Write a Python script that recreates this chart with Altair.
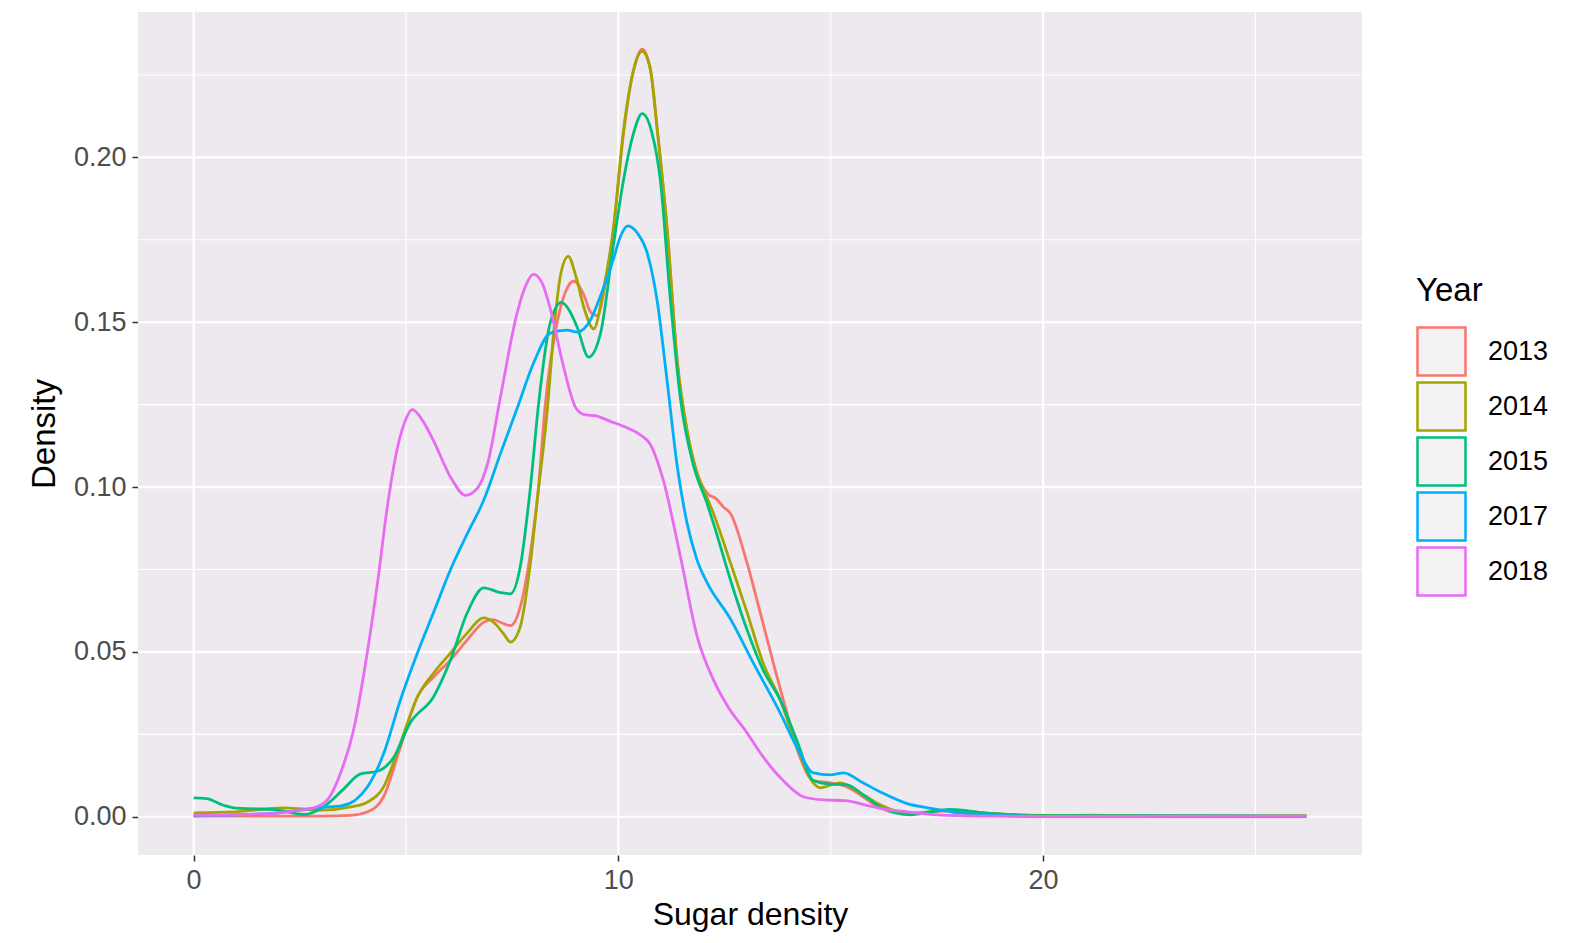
import altair as alt
import pandas as pd

# ---- data (Sugar density, Density) ----
x_2013 = [0, 1, 2, 3, 3.7, 4.1, 4.47, 4.87, 5.27, 5.65, 6.05, 6.44, 6.83, 7.06, 7.22, 7.46, 7.69, 7.93,
          8.12, 8.28, 8.56, 8.75, 8.95, 9.18, 9.35, 9.5, 9.7, 9.9, 10.12, 10.35, 10.56, 10.75, 10.92,
          11.15, 11.39, 11.62, 11.86, 12.1, 12.3, 12.47, 12.64, 13.03, 13.34, 13.65, 13.97, 14.28,
          14.59, 15.0, 15.38, 15.77, 16.16, 16.8, 17.8, 18.75, 20, 21.1, 22, 24, 26.2]
y_2013 = [0.0002, 0.0002, 0.0002, 0.0002, 0.0004, 0.0015, 0.006, 0.0212, 0.0364, 0.0424, 0.0476, 0.0536,
          0.059, 0.0598, 0.059, 0.058, 0.0636, 0.08, 0.10, 0.125, 0.15, 0.159, 0.1625, 0.1585, 0.153,
          0.152, 0.162, 0.18, 0.207, 0.226, 0.2328, 0.227, 0.208, 0.178, 0.138, 0.117, 0.104, 0.098,
          0.0965, 0.094, 0.092, 0.077, 0.062, 0.0466, 0.0315, 0.018, 0.011, 0.0103, 0.009, 0.006,
          0.0027, 0.001, 0.0018, 0.001, 0.0003, 0.0005, 0.0003, 0.0002, 0.0002]

x_2014 = [0, 1, 2.1, 3, 3.7, 4.1, 4.47, 4.87, 5.27, 5.65, 6.05, 6.44, 6.83, 7.06, 7.3, 7.46, 7.69, 7.93,
          8.1, 8.32, 8.5, 8.65, 8.82, 9.0, 9.2, 9.42, 9.65, 9.88, 10.12, 10.35, 10.56, 10.75, 10.92,
          11.15, 11.39, 11.62, 11.86, 12.05, 12.24, 12.64, 13.03, 13.41, 13.81, 14.2, 14.59, 14.75,
          15.22, 15.77, 16.16, 16.8, 17.8, 18.75, 20, 22, 24, 26.2]
y_2014 = [0.0012, 0.0015, 0.0027, 0.002, 0.003, 0.0045, 0.009, 0.0224, 0.0364, 0.0436, 0.0497, 0.0557,
          0.0603, 0.059, 0.0555, 0.053, 0.0576, 0.077, 0.097, 0.1224, 0.15, 0.165, 0.170, 0.164, 0.154,
          0.148, 0.16, 0.178, 0.208, 0.226, 0.2322, 0.227, 0.208, 0.178, 0.1376, 0.117, 0.104, 0.098,
          0.092, 0.077, 0.062, 0.0466, 0.0355, 0.0212, 0.0103, 0.0088, 0.0103, 0.0066, 0.0037, 0.001,
          0.002, 0.001, 0.0004, 0.0002, 0.0002, 0.0003]

x_2015 = [0, 0.3, 0.7, 1.0, 1.5, 2.0, 2.6, 3.06, 3.5, 3.93, 4.33, 4.71, 5.1, 5.65, 6.05, 6.44, 6.83,
          7.22, 7.46, 7.69, 7.93, 8.12, 8.4, 8.66, 8.85, 9.03, 9.3, 9.58, 9.88, 10.12, 10.35, 10.56,
          10.78, 10.99, 11.22, 11.46, 11.76, 12.09, 12.24, 12.64, 13.03, 13.41, 13.81, 14.2, 14.59,
          14.99, 15.38, 15.77, 16.16, 16.85, 17.8, 18.75, 20, 22, 24, 26.2]
y_2015 = [0.0057, 0.0055, 0.0035, 0.0026, 0.0024, 0.002, 0.0007, 0.003, 0.008, 0.013, 0.0138, 0.018,
          0.0285, 0.0364, 0.0476, 0.0618, 0.0694, 0.068, 0.0676, 0.0758, 0.10, 0.125, 0.15, 0.156,
          0.1535, 0.1485, 0.1394, 0.1466, 0.173, 0.193, 0.207, 0.2133, 0.208, 0.193, 0.1576, 0.127,
          0.107, 0.095, 0.089, 0.0718, 0.0567, 0.0445, 0.0355, 0.0233, 0.011, 0.0099, 0.0097, 0.0066,
          0.003, 0.0006, 0.0022, 0.001, 0.0003, 0.0003, 0.0003, 0.0002]

x_2017 = [0, 1, 2, 2.5, 3.0, 3.5, 3.8, 4.09, 4.47, 4.87, 5.27, 5.65, 6.05, 6.45, 6.83, 7.22, 7.62, 8.0,
          8.4, 8.8, 9.03, 9.34, 9.58, 9.88, 10.05, 10.22, 10.45, 10.68, 10.92, 11.15, 11.39, 11.62,
          11.85, 12.09, 12.64, 13.18, 13.81, 14.2, 14.59, 14.99, 15.3, 15.76, 16.16, 16.8, 17.39, 18.0,
          18.75, 20, 22, 24, 26.2]
y_2017 = [0.0003, 0.0006, 0.0012, 0.002, 0.0028, 0.0034, 0.005, 0.009, 0.019, 0.0355, 0.0497, 0.062,
          0.075, 0.086, 0.096, 0.110, 0.124, 0.1375, 0.1467, 0.1476, 0.147, 0.1506, 0.158, 0.169,
          0.176, 0.1792, 0.177, 0.171, 0.156, 0.132, 0.106, 0.089, 0.078, 0.071, 0.060, 0.0466,
          0.0315, 0.0212, 0.0133, 0.0127, 0.0133, 0.0103, 0.0076, 0.004, 0.0025, 0.0012, 0.0005,
          0.0001, 0.0001, 0.0001, 0.0001]

x_2018 = [0, 1, 2, 2.5, 2.9, 3.2, 3.46, 3.76, 4.09, 4.33, 4.56, 4.8, 4.95, 5.15, 5.4, 5.65, 6.05, 6.4,
          6.7, 6.92, 7.22, 7.62, 7.85, 8.0, 8.2, 8.4, 8.7, 9.0, 9.2, 9.5, 9.8, 10.2, 10.5, 10.75, 11.06,
          11.46, 11.86, 12.24, 12.6, 13.0, 13.4, 13.88, 14.37, 14.85, 15.34, 15.8, 16.3, 16.8, 17.5,
          18.75, 20, 22, 24, 26.2]
y_2018 = [0.0004, 0.0006, 0.0012, 0.002, 0.003, 0.006, 0.0133, 0.026, 0.05, 0.071, 0.094, 0.112, 0.119,
          0.1235, 0.120, 0.114, 0.103, 0.0975, 0.1, 0.107, 0.127, 0.153, 0.162, 0.1645, 0.162, 0.154,
          0.137, 0.124, 0.122, 0.1215, 0.120, 0.118, 0.116, 0.113, 0.102, 0.079, 0.0545, 0.0415,
          0.033, 0.026, 0.0183, 0.011, 0.006, 0.0051, 0.0049, 0.0036, 0.0022, 0.0015, 0.0006, 0.0002,
          0.0001, 0.0001, 0.0002, 0.0002]

years = ["2013", "2014", "2015", "2017", "2018"]
colors = ["#F8766D", "#A3A500", "#00BF7D", "#00B0F6", "#E76BF3"]

x_ticks = [0, 10, 20]
x_major_grid = [0, 10, 20]
x_minor_grid = [5, 15, 25]
y_ticks = [0.0, 0.05, 0.10, 0.15, 0.20]
y_major_grid = [0.0, 0.05, 0.10, 0.15, 0.20]
y_minor_grid = [0.025, 0.075, 0.125, 0.175, 0.225]

series = {"2013": (x_2013, y_2013), "2014": (x_2014, y_2014), "2015": (x_2015, y_2015),
          "2017": (x_2017, y_2017), "2018": (x_2018, y_2018)}
rows = []
for yr, (xs, ys) in series.items():
    for xv, yv in zip(xs, ys):
        rows.append({"Year": yr, "sugar": xv, "density": yv})
df = pd.DataFrame(rows)

x_dom = [-1.31, 27.51]
y_dom = [-0.0116, 0.2441]
xscale = alt.Scale(domain=x_dom, nice=False, zero=False)
yscale = alt.Scale(domain=y_dom, nice=False, zero=False)

x_axis = alt.Axis(values=x_ticks, grid=False, domain=False, tickSize=6, tickWidth=1.5,
                  tickColor="#333333", labelColor="#4D4D4D", labelFontSize=27,
                  labelPadding=6, titleFontSize=32, titleFontWeight="normal",
                  titleColor="#000000", titlePadding=6, format="d")
y_axis = alt.Axis(values=y_ticks, grid=False, domain=False, tickSize=6, tickWidth=1.5,
                  tickColor="#333333", labelColor="#4D4D4D", labelFontSize=27,
                  labelPadding=6, titleFontSize=33, titleFontWeight="normal",
                  titleColor="#000000", titlePadding=12, format=".2f")

def vrules(vals, w):
    return alt.Chart(pd.DataFrame({"sugar": vals})).mark_rule(color="white", strokeWidth=w).encode(
        x=alt.X("sugar:Q", scale=xscale, title="Sugar density", axis=x_axis))

def hrules(vals, w):
    return alt.Chart(pd.DataFrame({"density": vals})).mark_rule(color="white", strokeWidth=w).encode(
        y=alt.Y("density:Q", scale=yscale, title="Density", axis=y_axis))

lines = alt.Chart(df).mark_line(interpolate="monotone", strokeWidth=2.8).encode(
    x=alt.X("sugar:Q", scale=xscale, title="Sugar density", axis=x_axis),
    y=alt.Y("density:Q", scale=yscale, title="Density", axis=y_axis),
    color=alt.Color("Year:N", scale=alt.Scale(domain=years, range=colors),
                    legend=alt.Legend(title="Year", orient="none", legendX=1278, legendY=263,
                                      symbolType="square", symbolSize=2304,
                                      symbolStrokeWidth=2.5, symbolFillColor="#F5F2F5",
                                      labelFontSize=27, labelColor="#000000", labelOffset=21,
                                      titleFontSize=33, titleFontWeight="normal",
                                      titleColor="#000000", titlePadding=18, rowPadding=-4,
                                      padding=0)),
)

chart = alt.layer(
    vrules(x_minor_grid, 1.1), hrules(y_minor_grid, 1.1),
    vrules(x_major_grid, 2.2), hrules(y_major_grid, 2.2),
    lines,
).properties(
    width=1224, height=843,
    autosize=alt.AutoSizeParams(type="none"),
    padding={"left": 130, "top": 4, "right": 215, "bottom": 80},
).configure(
    font="Liberation Sans",
).configure_view(
    fill="#EEE9EE", stroke=None,
)

chart.save("out.html", embed_options={"renderer": "svg", "actions": False})
